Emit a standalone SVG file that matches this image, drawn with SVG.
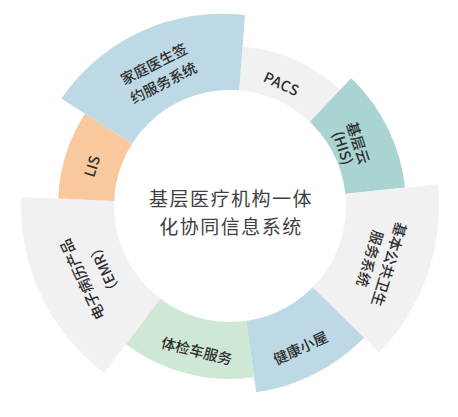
<svg xmlns="http://www.w3.org/2000/svg" width="458" height="417" viewBox="0 0 458 417">
<style>
.lbl{font-family:"Noto Sans CJK SC","Noto Sans",sans-serif;font-size:14.5px;fill:#2e2e2e;text-anchor:middle;dominant-baseline:central;font-weight:500}
.ctr{font-family:"Noto Sans CJK SC","Noto Sans",sans-serif;font-size:19px;fill:#404040;text-anchor:middle;dominant-baseline:central;letter-spacing:1.5px}
.gray{fill:#f1f1f2}.blue{fill:#bed9e6}.teal{fill:#a9d4d2}.green{fill:#cfe8d5}.orange{fill:#f8c99c}
</style>
<rect width="458" height="417" fill="#ffffff"/>
<g id="connectors"></g>
<g id="seg-pacs"><path class="gray" d="M230,206 L242.55,46.49 A160,160 0 0 1 340.14,89.94 Z"/><text class="lbl" transform="translate(282,83) rotate(25)" letter-spacing="0.6">PACS</text></g>
<g id="seg-his"><path class="teal" d="M230,206 L351.15,78.33 A176,176 0 0 1 405.04,187.6 Z"/><text class="lbl" transform="translate(352,145) rotate(72)"><tspan x="0" y="-8">基层云</tspan><tspan x="0" y="8">(HIS)</tspan></text></g>
<g id="seg-public"><path class="gray" d="M230,206 L437.85,184.15 A209,209 0 0 1 379.07,352.49 Z"/><text class="lbl" transform="translate(381,262) rotate(107)"><tspan x="0" y="-10">基本公共卫生</tspan><tspan x="0" y="10">服务系统</tspan></text></g>
<g id="seg-hut"><path class="blue" d="M230,206 L364.09,337.77 A188,188 0 0 1 256.16,392.17 Z"/><text class="lbl" transform="translate(300,347) rotate(-25)">健康小屋</text></g>
<g id="seg-car"><path class="green" d="M230,206 L254.08,377.32 A173,173 0 0 1 125.89,344.16 Z"/><text class="lbl" transform="translate(197,350) rotate(14)">体检车服务</text></g>
<g id="seg-emr"><path class="gray" d="M230,206 L104.22,372.92 A209,209 0 0 1 21.2,196.88 Z"/><text class="lbl" transform="translate(92,275) rotate(-115)"><tspan x="0" y="-12">电子病历产品</tspan><tspan x="0" y="12">（EMR）</tspan></text></g>
<g id="seg-lis"><path class="orange" d="M230,206 L58.16,198.5 A172,172 0 0 1 84.94,113.58 Z"/><text class="lbl" transform="translate(91,166) rotate(-73)">LIS</text></g>
<g id="seg-family"><path class="blue" d="M230,206 L61.32,98.54 A195,195 0 0 1 245.03,15.09 Z"/><text class="lbl" transform="translate(158,72) rotate(-27)"><tspan x="0" y="-10.5">家庭医生签</tspan><tspan x="0" y="10.5">约服务系统</tspan></text></g>
<g id="center"><circle cx="230" cy="206" r="116" fill="#ffffff"/><text class="ctr" x="231" y="197">基层医疗机构一体</text><text class="ctr" x="231" y="225">化协同信息系统</text></g>
</svg>
